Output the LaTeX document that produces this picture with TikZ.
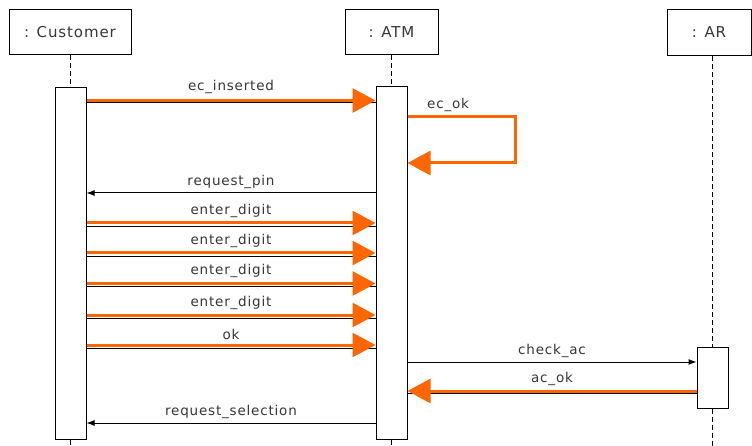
\documentclass[tikz,border=0pt]{standalone}
\usepackage{fontspec}
\setmainfont{DejaVu Sans}[LetterSpace=6]
\usetikzlibrary{arrows.meta}
\definecolor{hl}{RGB}{255,102,0}
\definecolor{ink}{RGB}{55,55,55}
\tikzset{
  obj/.style={draw=black, line width=1pt, fill=white, text=ink,
    font=\fontsize{15}{17}\selectfont, inner sep=0pt},
  act/.style={draw=black, line width=1pt, fill=white, minimum width=31pt, inner sep=0pt},
  life/.style={draw=black, line width=1pt, dash pattern=on 5pt off 3pt},
  call/.style={draw=black, line width=1pt, -{Latex[length=8pt,width=6pt]}},
  plain/.style={draw=black, line width=1pt},
  hot/.style={draw=hl, line width=3pt, -{Triangle[length=23pt,width=24pt]}},
  msg/.style={text=ink, font=\fontsize{13.5}{15}\selectfont, inner sep=0pt}
}
\begin{document}
\begin{tikzpicture}[x=1pt, y=-1pt]
\useasboundingbox[fill=white] (0,0) rectangle (752,446);

% objects
\node[obj, minimum width=122pt, minimum height=45pt] (cust) at (70,32.5) {: Customer};
\node[obj, minimum width=93pt, minimum height=45pt] (atm) at (391.5,32.5) {: ATM};
\node[obj, minimum width=84pt, minimum height=46pt] (ar) at (709,32.5) {: AR};

% activation bars
\node[act, minimum height=351pt] (custAct) at (70.5,263.5) {};
\node[act, minimum height=352pt] (atmAct) at (391.5,263) {};
\node[act, minimum height=61pt] (arAct) at (712.5,377.5) {};

% lifelines
\coordinate (custEnd) at (70.5,446);
\coordinate (atmEnd) at (391.5,446);
\coordinate (arEnd) at (712.5,446);
\draw[life] (cust.south -| custAct.north) -- (custAct.north);
\draw[life] (custAct.south) -- (custEnd);
\draw[life] (atm.south -| atmAct.north) -- (atmAct.north);
\draw[life] (atmAct.south) -- (atmEnd);
\draw[life] (ar.south -| arAct.north) -- (arAct.north);
\draw[life] (arAct.south) -- (arEnd);

% ec_inserted
\draw[plain] (custAct.east |- 0,103) -- (atmAct.west |- 0,103);
\draw[hot] (custAct.east |- 0,100.5) -- node[msg, above=5pt] {ec\_inserted} (atmAct.west |- 0,100.5);

% ec_ok (self call)
\coordinate (okTurn) at (515,117);
\draw[hot] (atmAct.east |- okTurn) -- (okTurn) -- (okTurn |- 0,163) -- (atmAct.east |- 0,163);
\node[msg, anchor=south west] (okLbl) at (427,112) {ec\_ok};

% request_pin
\draw[call] (atmAct.west |- 0,193) -- node[msg, above=4pt] {request\_pin} (custAct.east |- 0,193);

% enter_digit x4 and ok
\foreach \yy/\tx in {223/enter\_digit, 253/enter\_digit, 283.5/enter\_digit, 315/enter\_digit, 345/ok} {
  \draw[plain] (custAct.east |- 0,\yy+3.5) -- (atmAct.west |- 0,\yy+3.5);
  \draw[hot] (custAct.east |- 0,\yy) -- node[msg, above=4pt] {\tx} (atmAct.west |- 0,\yy);
}

% check_ac
\draw[call] (atmAct.east |- 0,362) -- node[msg, above=4pt] {check\_ac} (arAct.west |- 0,362);

% ac_ok
\draw[plain] (arAct.west |- 0,393) -- (atmAct.east |- 0,393);
\draw[hot] (arAct.west |- 0,391) -- node[msg, above=4pt] {ac\_ok} (atmAct.east |- 0,391);

% request_selection
\draw[call] (atmAct.west |- 0,423) -- node[msg, above=4pt] {request\_selection} (custAct.east |- 0,423);
\end{tikzpicture}
\end{document}
